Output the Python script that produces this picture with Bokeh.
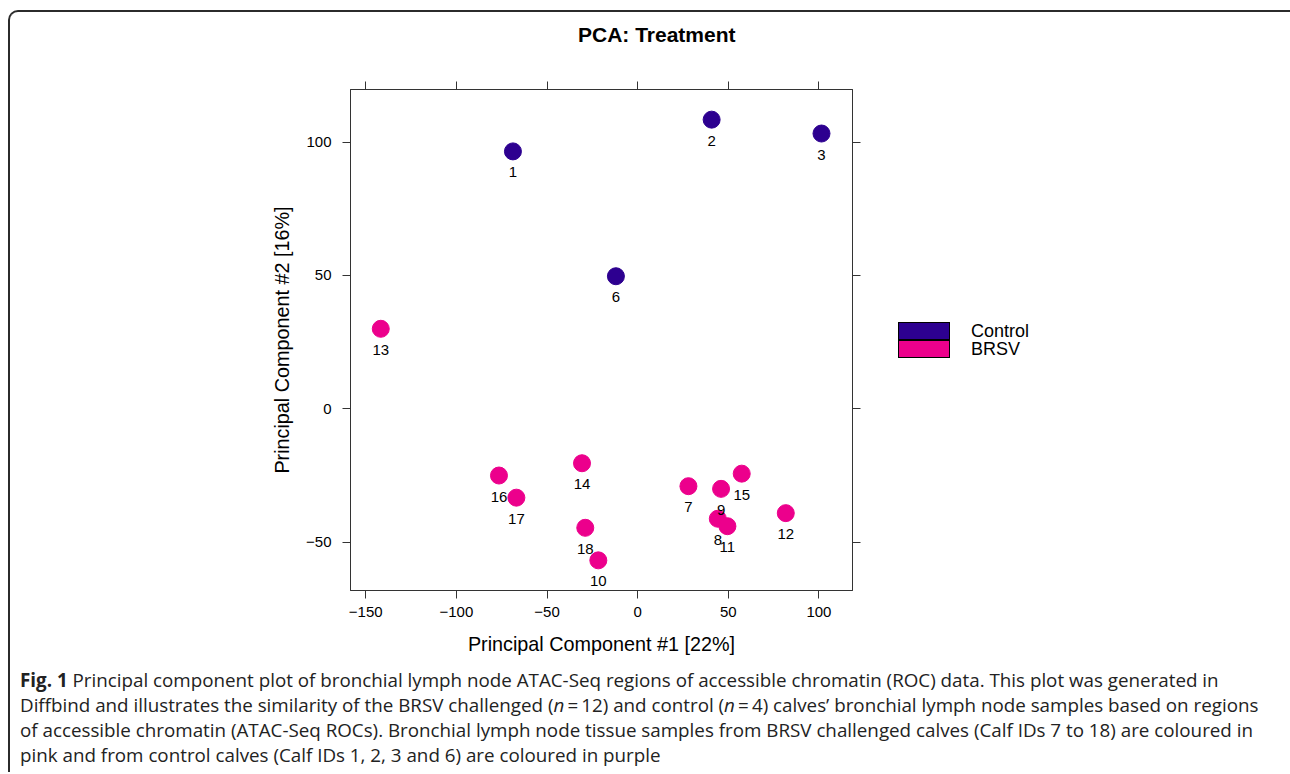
from bokeh.plotting import figure
from bokeh.models import (LinearAxis, FixedTicker, ColumnDataSource, Range1d,
                          CustomJSTickFormatter, Div)
from bokeh.layouts import column, row
from bokeh.transform import factor_cmap
from bokeh.embed import file_html
from bokeh.resources import INLINE
from bokeh.core.properties import value

# ---------------- data ----------------
calf_ids = ["1", "2", "3", "6", "7", "8", "9", "10", "11", "12", "13", "14", "15", "16", "17", "18"]
pc1 = [-68.8, 40.8, 101.4, -12.0, 28.0, 44.2, 46.0, -21.7, 49.5, 81.7, -141.7, -30.7, 57.4, -76.5, -66.9, -28.9]
pc2 = [96.5, 108.4, 103.2, 49.7, -29.0, -41.2, -30.0, -56.8, -44.0, -39.1, 30.0, -20.4, -24.3, -25.0, -33.3, -44.6]
treatment = ["Control", "Control", "Control", "Control",
             "BRSV", "BRSV", "BRSV", "BRSV", "BRSV", "BRSV",
             "BRSV", "BRSV", "BRSV", "BRSV", "BRSV", "BRSV"]
groups = ["Control", "BRSV"]
group_colors = ["#2D0090", "#EC008C"]
x_ticks = [-150, -100, -50, 0, 50, 100]
y_ticks = [-50, 0, 50, 100]

title_text = "PCA: Treatment"
x_label = "Principal Component #1 [22%]"
y_label = "Principal Component #2 [16%]"
caption_html_lines = [
    "<b>Fig. 1</b> Principal component plot of bronchial lymph node ATAC-Seq regions of accessible chromatin (ROC) data. This plot was generated in",
    "Diffbind and illustrates the similarity of the BRSV challenged (<i>n</i>\u2009=\u200912) and control (<i>n</i>\u2009=\u20094) calves\u2019 bronchial lymph node samples based on regions",
    "of accessible chromatin (ATAC-Seq ROCs). Bronchial lymph node tissue samples from BRSV challenged calves (Calf IDs 7 to 18) are coloured in",
    "pink and from control calves (Calf IDs 1, 2, 3 and 6) are coloured in purple",
]

FONT = "Liberation Sans"
W = 1280
P_LEFT, P_RIGHT, P_TOP, P_BOTTOM = 340, 20, 37, 75
FRAME_W, FRAME_H = 502, 501
P_W = P_LEFT + FRAME_W + P_RIGHT
P_H = P_TOP + FRAME_H + P_BOTTOM

src = ColumnDataSource(dict(calf_id=calf_ids, pc1=pc1, pc2=pc2, treatment=treatment))

# ---------------- title ----------------
title_div = Div(text=('<div style="font-family:\'Liberation Sans\'; font-weight:bold; font-size:21px; '
                      'line-height:24px; color:#000; padding:11px 0 0 568px; white-space:nowrap;">'
                      + title_text + '</div>'),
                width=W, height=40, margin=0)

# ---------------- chart ----------------
p = figure(frame_width=FRAME_W, frame_height=FRAME_H,
           x_range=Range1d(-158.4, 118.5), y_range=Range1d(-68.1, 119.7),
           output_backend="svg", toolbar_location=None,
           min_border_left=P_LEFT, min_border_right=P_RIGHT,
           min_border_top=P_TOP, min_border_bottom=P_BOTTOM, margin=0)
p.grid.grid_line_color = None
p.outline_line_color = "#333333"
p.background_fill_color = "white"
p.border_fill_color = "white"

minus_fmt = CustomJSTickFormatter(code="return (tick < 0 ? '\u2212' : '') + Math.abs(tick).toString();")
blank_fmt = CustomJSTickFormatter(code="return '';")


def style_axis(ax, show):
    ax.axis_line_color = "#333333"
    ax.major_tick_line_color = "#333333"
    ax.major_tick_out = 8
    ax.major_tick_in = 0
    ax.minor_tick_out = 0
    ax.minor_tick_in = 0
    ax.minor_tick_line_color = None
    ax.major_label_text_font = FONT
    ax.major_label_text_color = "black"
    ax.axis_label_text_font = FONT
    ax.axis_label_text_font_size = "19.8px"
    ax.axis_label_text_font_style = "normal"
    ax.axis_label_text_color = "black"
    if show:
        ax.formatter = minus_fmt
        ax.major_label_text_font_size = "15px"
    else:
        ax.formatter = blank_fmt
        ax.major_label_text_font_size = "0px"
        ax.major_label_standoff = 0


ax_b = p.xaxis[0]
ax_b.ticker = FixedTicker(ticks=x_ticks)
ax_b.axis_label = x_label
style_axis(ax_b, True)
ax_b.major_label_standoff = 8
ax_b.axis_label_standoff = 13

ax_l = p.yaxis[0]
ax_l.ticker = FixedTicker(ticks=y_ticks)
ax_l.axis_label = y_label
style_axis(ax_l, True)
ax_l.major_label_standoff = 11
ax_l.axis_label_standoff = 10

ax_t = LinearAxis(ticker=FixedTicker(ticks=x_ticks))
style_axis(ax_t, False)
ax_r = LinearAxis(ticker=FixedTicker(ticks=y_ticks))
style_axis(ax_r, False)
p.add_layout(ax_t, "above")
p.add_layout(ax_r, "right")

cmap = factor_cmap("treatment", palette=group_colors, factors=groups)
p.scatter(x="pc1", y="pc2", source=src, size=17, fill_color=cmap, line_color=cmap)
p.text(x="pc1", y="pc2", text="calf_id", source=src, y_offset=21,
       text_align="center", text_baseline="middle",
       text_font=value(FONT), text_font_size="15px", text_color="black")

# ---------------- legend ----------------
LEG_W = W - P_W
leg_parts = ['<div style="position:relative; width:%dpx; height:%dpx;">' % (LEG_W, P_H)]
key_tops = [270, 287.5]
for g, c, t in zip(groups, group_colors, key_tops):
    leg_parts.append('<div style="position:absolute; left:26px; top:%spx; width:52px; height:18px; '
                     'box-sizing:border-box; background:%s; border:1px solid #000;"></div>' % (t, c))
    leg_parts.append('<div style="position:absolute; left:99px; top:%spx; height:18px; line-height:18px; '
                     'font-family:\'Liberation Sans\'; font-size:18px; color:#000; white-space:nowrap;">%s</div>'
                     % (t, g))
leg_parts.append('</div>')
legend_div = Div(text="".join(leg_parts), width=LEG_W, height=P_H, margin=0)

# ---------------- caption ----------------
cap_html = ('<div style="font-family:\'Open Sans\'; font-size:18.8px; line-height:25px; '
            'color:#222222; padding:0 0 0 10px; position:relative; top:3px; white-space:nowrap;">'
            + "<br>".join(caption_html_lines) + "</div>")
cap = Div(text=cap_html, width=W, height=107, margin=0)

layout = column(title_div, row(p, legend_div, margin=0), cap, margin=(10, 0, 0, 8),
                styles={"border-top": "2px solid #2b2b2b",
                        "border-left": "2px solid #2b2b2b",
                        "border-top-left-radius": "10px"})

open("out.html", "w").write(file_html(layout, INLINE))
